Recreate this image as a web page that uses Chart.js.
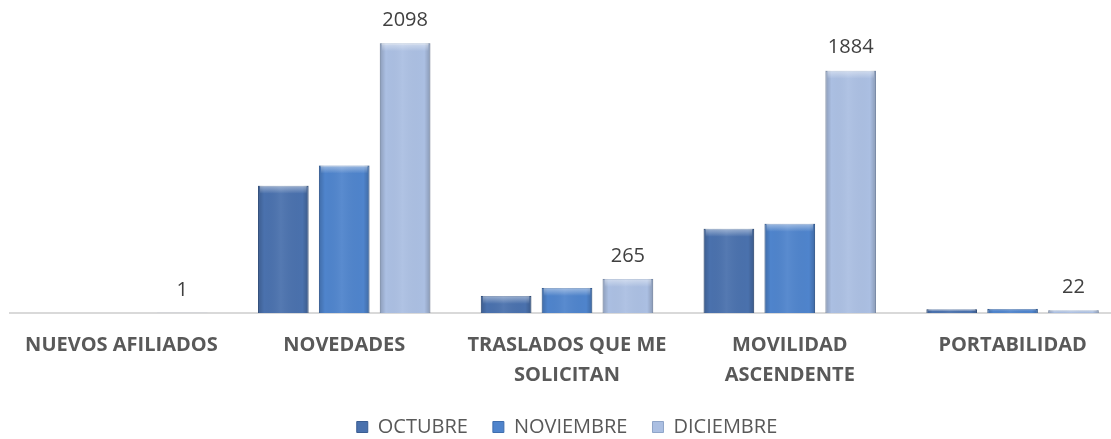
<!DOCTYPE html>
<html>
<head>
<meta charset="utf-8">
<script src="https://cdn.jsdelivr.net/npm/chart.js@4.4.0/dist/chart.umd.min.js"></script>
<style>
  html, body { margin: 0; padding: 0; background: #ffffff; overflow: hidden; }
  #wrap { position: relative; width: 1134px; height: 439px; }
</style>
</head>
<body>
<div id="wrap"><canvas id="c" width="1134" height="439"></canvas></div>
<script>
const categories = [
  "NUEVOS AFILIADOS",
  "NOVEDADES",
  ["TRASLADOS QUE ME", "SOLICITAN"],
  ["MOVILIDAD", "ASCENDENTE"],
  "PORTABILIDAD"
];
const seriesNames = ["OCTUBRE", "NOVIEMBRE", "DICIEMBRE"];
const octubre   = [0, 990, 133, 655, 30];
const noviembre = [0, 1147, 195, 694, 32];
const diciembre = [1, 2098, 265, 1884, 22];
const yMax = 2356;

const colors = ["#4a71ad", "#4f84cc", "#abbfe2"];
const borders = ["#3a5d92", "#3f6eae", "#8fa5c9"];

const legendShift = 7;

const labelPlugin = {
  id: "dicLabels",
  beforeDraw(chart) {
    if (chart.legend) chart.legend.top -= legendShift;
  },
  afterDraw(chart) {
    if (chart.legend) chart.legend.top += legendShift;
  },
  afterDatasetsDraw(chart) {
    const ctx = chart.ctx;
    // subtle bevel shading on each bar
    chart.data.datasets.forEach((ds, di) => {
      chart.getDatasetMeta(di).data.forEach((bar) => {
        const left = bar.x - bar.width / 2, right = bar.x + bar.width / 2;
        const top = Math.min(bar.y, bar.base), h = Math.abs(bar.base - bar.y);
        if (h < 1) return;
        ctx.save();
        const g = ctx.createLinearGradient(left, 0, right, 0);
        g.addColorStop(0, "rgba(0,0,0,0.18)");
        g.addColorStop(0.12, "rgba(0,0,0,0.0)");
        g.addColorStop(0.45, "rgba(255,255,255,0.06)");
        g.addColorStop(0.88, "rgba(0,0,0,0.0)");
        g.addColorStop(1, "rgba(0,0,0,0.2)");
        ctx.fillStyle = g;
        ctx.fillRect(left, top, bar.width, h);
        const bh = Math.min(8, h / 2);
        const g2 = ctx.createLinearGradient(0, top, 0, top + bh);
        g2.addColorStop(0, "rgba(255,255,255,0.45)");
        g2.addColorStop(1, "rgba(255,255,255,0.0)");
        ctx.fillStyle = g2;
        ctx.fillRect(left + 2, top, bar.width - 4, bh);
        ctx.restore();
      });
    });
    const meta = chart.getDatasetMeta(2);
    ctx.save();
    ctx.font = "20px 'Open Sans'";
    ctx.fillStyle = "#404040";
    ctx.textAlign = "center";
    ctx.textBaseline = "middle";
    meta.data.forEach((bar, i) => {
      ctx.fillText(String(diciembre[i]), bar.x, bar.y - 23);
    });
    ctx.restore();
  }
};

new Chart(document.getElementById("c"), {
  type: "bar",
  data: {
    labels: categories,
    datasets: [
      { label: seriesNames[0], data: octubre, backgroundColor: colors[0], borderColor: borders[0], borderWidth: 1 },
      { label: seriesNames[1], data: noviembre, backgroundColor: colors[1], borderColor: borders[1], borderWidth: 1 },
      { label: seriesNames[2], data: diciembre, backgroundColor: colors[2], borderColor: borders[2], borderWidth: 1 }
    ]
  },
  options: {
    responsive: false,
    animation: false,
    layout: { padding: { top: 10, left: 10, right: 10, bottom: -15 } },
    datasets: { bar: { categoryPercentage: 0.82, barPercentage: 0.83 } },
    scales: {
      x: {
        grid: { display: false },
        border: { display: true, color: "#d9d9d9", width: 2 },
        ticks: {
          color: "#595959",
          font: { family: "'Open Sans'", size: 20, weight: "bold", lineHeight: 1.5 },
          maxRotation: 0,
          autoSkip: false,
          padding: 9
        }
      },
      y: { display: false, min: 0, max: yMax }
    },
    plugins: {
      legend: {
        position: "bottom",
        labels: {
          color: "#595959",
          font: { family: "'Open Sans'", size: 20 },
          boxWidth: 11,
          boxHeight: 11,
          padding: 25
        }
      },
      tooltip: { enabled: false }
    }
  },
  plugins: [labelPlugin]
});
</script>
</body>
</html>
